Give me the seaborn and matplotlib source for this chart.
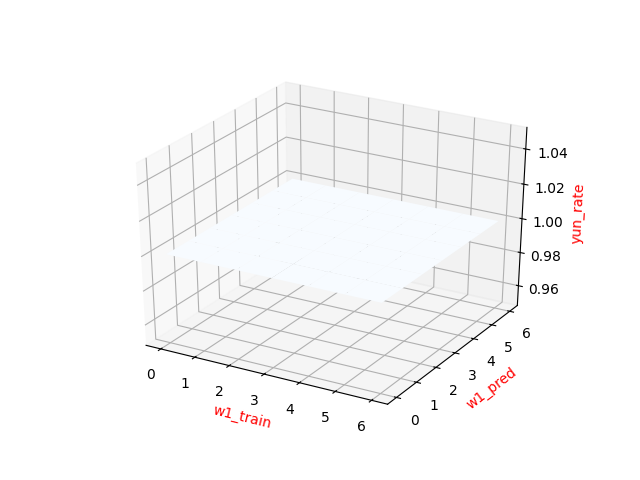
"""Surface of yun_rate over w1_train and w1_pred."""

import numpy as np
import seaborn as sns
from matplotlib import pyplot as plt

w1_train = [0, 1, 2, 3, 4, 5, 6]
w1_pred = [0, 1, 2, 3, 4, 5, 6]
yun_rate = [
    [1, 1, 1, 1, 1, 1, 1],
    [1, 1, 1, 1, 1, 1, 1],
    [1, 1, 1, 1, 1, 1, 1],
    [1, 1, 1, 1, 1, 1, 1],
    [1, 1, 1, 1, 1, 1, 1],
    [1, 1, 1, 1, 1, 1, 1],
    [1, 1, 1, 1, 1, 1, 1],
]

sns.reset_orig()

fig = plt.figure(figsize=(6.4, 4.8), dpi=100)
ax = fig.add_subplot(projection="3d")

# stretch the cube over the whole axes box, the way older matplotlib drew it
ax.apply_aspect = lambda position=None: None
ax.set_box_aspect((1, 1, 1), zoom=0.945)

X, Y = np.meshgrid(w1_train, w1_pred)
ax.plot_surface(X, Y, np.array(yun_rate, dtype=float), cmap=sns.color_palette("Blues", as_cmap=True))

ax.set_xlabel("w1_train", color="red")
ax.set_ylabel("w1_pred", color="red")
ax.set_zlabel("yun_rate", color="red")

plt.savefig("out.png", dpi=100)
